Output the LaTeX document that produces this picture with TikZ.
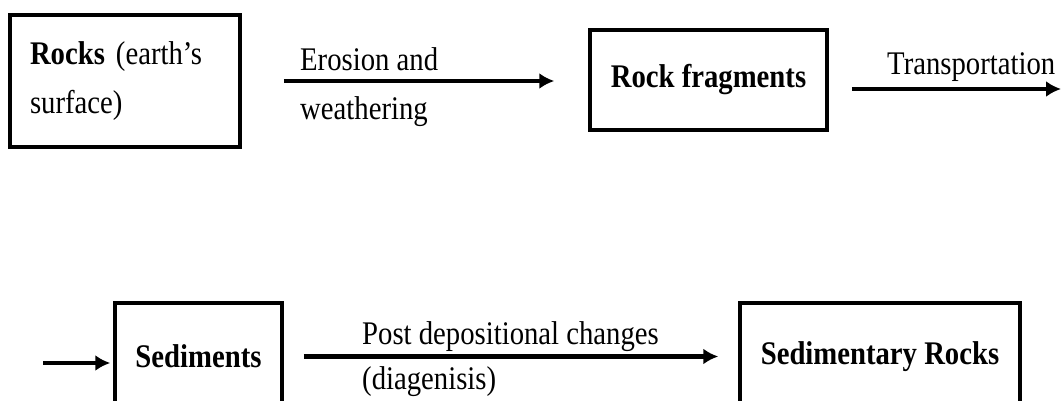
\documentclass[tikz,border=0pt]{standalone}
\usepackage{fontspec}
\setmainfont{Liberation Serif}[FakeStretch=0.87]
\usetikzlibrary{arrows.meta, positioning}

\begin{document}
\begin{tikzpicture}[
    x=1pt, y=1pt,
    font=\fontsize{33}{49}\selectfont,
    boxNode/.style={draw, line width=3.5pt, inner sep=0pt, align=center},
    lblNode/.style={anchor=base west, align=left, inner sep=0pt},
    arrLine/.style={-{Latex[length=15pt, width=16pt]}, line width=4.5pt}
]
\useasboundingbox (0,0) rectangle (1062,401);
\clip (0,0) rectangle (1062,401);

% Boxes
\node[boxNode, text width=190pt, inner xsep=20pt, minimum height=132pt, align=left] (rocks) at (125,320) {\textbf{Rocks} (earth’s\\surface)};
\node[boxNode, minimum width=237pt, minimum height=100pt] (frag) at (708.5,321) {\textbf{Rock fragments}};
\node[boxNode, minimum width=167pt, minimum height=107pt] (sed) at (198.5,44.5) {\textbf{Sediments}};
\node[boxNode, minimum width=280pt, minimum height=107pt] (sedrock) at (880,44.5) {\textbf{Sedimentary Rocks}};

% Free ends off the page
\coordinate (offR) at (1061,312);
\coordinate (offL) at (43,38);

% Arrows
\draw[arrLine, shorten <=42pt, shorten >=34pt] (rocks.east) -- (rocks.east -| frag.west);
\draw[arrLine, shorten <=23pt] (frag.east |- offR) -- (offR);
\draw[arrLine, shorten >=3pt] (offL) -- (offL -| sed.west);
\draw[arrLine, shorten <=20pt, shorten >=20pt] (sed.east) -- (sed.east -| sedrock.west);

% Labels (base = last line)
\node[lblNode] (erosion) at (300,281) {Erosion and\\weathering};
\node[lblNode] (transport) at (887,326) {Transportation};
\node[lblNode, font=\fontsize{33}{45}\selectfont] (diagen) at (362,11) {Post depositional changes\\(diagenisis)};

\end{tikzpicture}
\end{document}
